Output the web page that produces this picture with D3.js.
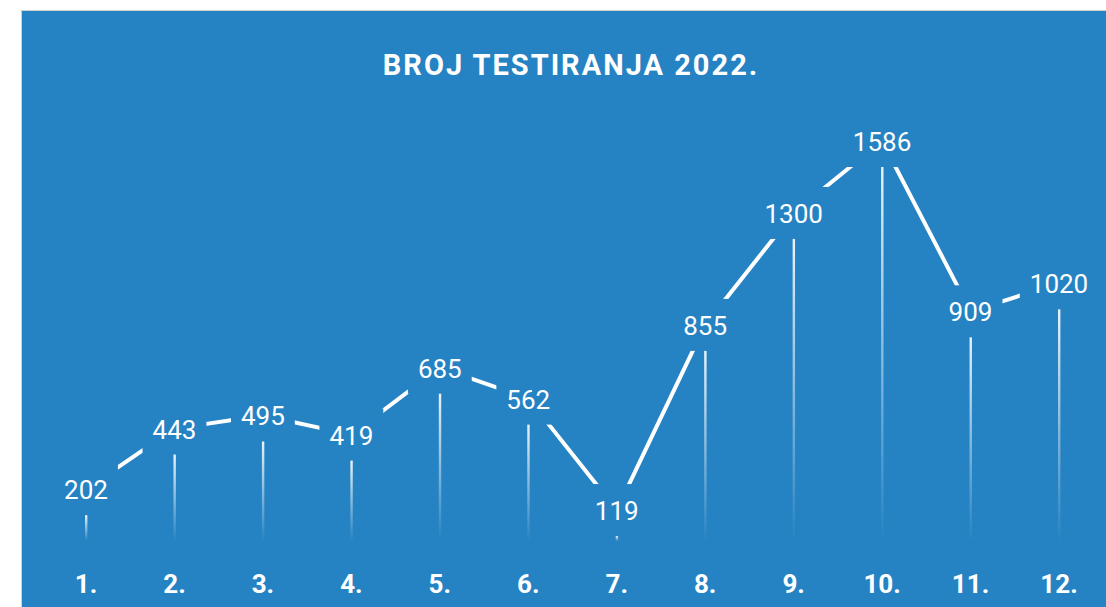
<!DOCTYPE html>
<html>
<meta charset="UTF-8" />
<script src="https://cdn.jsdelivr.net/npm/d3@7"></script>
<style>
*{margin:0; padding:0;}
body{background:#ffffff;}
</style>
<body>
<div id="chart"></div>
<script>
// data
var months = ["1.","2.","3.","4.","5.","6.","7.","8.","9.","10.","11.","12."];
var tests = [202,443,495,419,685,562,119,855,1300,1586,909,1020];
var title = "BROJ TESTIRANJA 2022.";

var width = 1106, height = 607;
var blue = "#2683c3";

var svg = d3.select("#chart").append("svg")
	.attr("width", width)
	.attr("height", height);

var defs = svg.append("defs");
var grad = defs.append("linearGradient")
	.attr("id", "fade")
	.attr("x1", 0).attr("y1", 0).attr("x2", 0).attr("y2", 1);
grad.append("stop").attr("offset", "0%").attr("stop-color", "#fff").attr("stop-opacity", 0.9);
grad.append("stop").attr("offset", "100%").attr("stop-color", "#fff").attr("stop-opacity", 0);

// panel
svg.append("rect")
	.attr("x", 21.5).attr("y", 10.5)
	.attr("width", width).attr("height", height)
	.attr("fill", blue)
	.attr("stroke", "#d0d0d0");

var x = d3.scalePoint().domain(months).range([86, 1059]);
var y = d3.scaleLinear().domain([0, 1586]).range([566, 167]);
var base = 541;
var lift = 26;

svg.append("text")
	.attr("x", 571).attr("y", 75)
	.attr("text-anchor", "middle")
	.attr("fill", "#fff")
	.style("font-family", "Roboto")
	.style("font-weight", "bold")
	.style("font-size", "29px")
	.style("letter-spacing", "2px")
	.text(title);

// vertical drops
svg.selectAll(".drop").data(tests).enter().append("rect")
	.attr("class", "drop")
	.attr("x", function(d,i){ return x(months[i]) - 1; })
	.attr("y", function(d){ return y(d); })
	.attr("width", 2.4)
	.attr("height", function(d){ return Math.max(base - y(d), 1); })
	.attr("fill", "url(#fade)");

// value labels
var labels = svg.selectAll(".val").data(tests).enter().append("text")
	.attr("class", "val")
	.attr("x", function(d,i){ return x(months[i]); })
	.attr("y", function(d){ return y(d) - 16; })
	.attr("text-anchor", "middle")
	.attr("fill", "#fff")
	.style("font-family", "Roboto")
	.style("font-weight", "400")
	.style("font-size", "26px")
	.text(function(d){ return d; });

// mask to cut line around labels
var mask = defs.append("mask").attr("id", "cut").attr("maskUnits", "userSpaceOnUse")
	.attr("x", 0).attr("y", 0).attr("width", width).attr("height", height);
mask.append("rect").attr("width", width).attr("height", height).attr("fill", "#fff");
labels.each(function(d,i){
	var b = this.getBBox();
	var cy = y(d) - lift;
	mask.append("rect")
		.attr("x", b.x - 10).attr("y", cy - 26)
		.attr("width", b.width + 20).attr("height", 52)
		.attr("fill", "#000");
});

var line = d3.line()
	.x(function(d,i){ return x(months[i]); })
	.y(function(d){ return y(d) - lift; });

svg.insert("path", ".val")
	.datum(tests)
	.attr("d", line)
	.attr("fill", "none")
	.attr("stroke", "#fff")
	.attr("stroke-width", 4)
	.attr("mask", "url(#cut)");

// month labels
svg.selectAll(".mon").data(months).enter().append("text")
	.attr("class", "mon")
	.attr("x", function(d){ return x(d); })
	.attr("y", 593)
	.attr("text-anchor", "middle")
	.attr("fill", "#fff")
	.style("font-family", "Roboto")
	.style("font-weight", "bold")
	.style("font-size", "26px")
	.text(function(d){ return d; });
</script>
</body>
</html>
